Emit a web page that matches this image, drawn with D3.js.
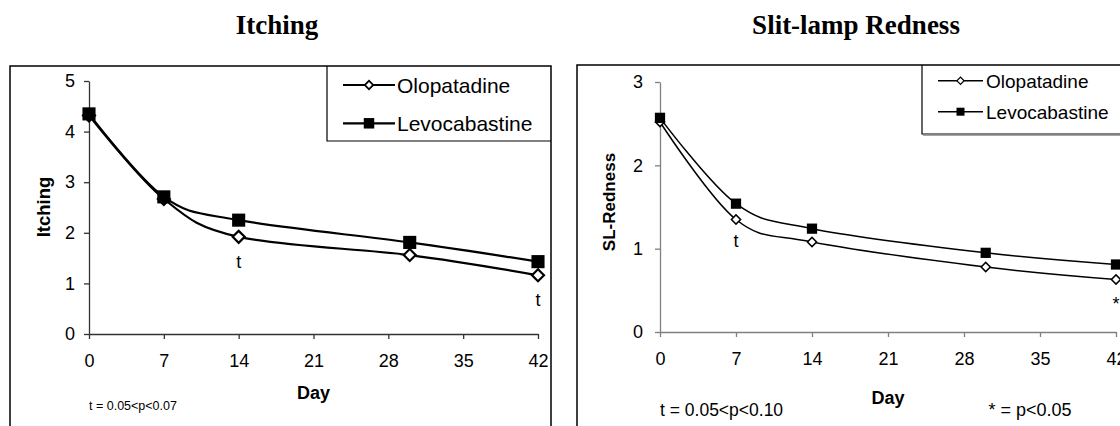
<!DOCTYPE html>
<html>
<head>
<meta charset="utf-8">
<script src="https://cdn.jsdelivr.net/npm/d3@7"></script>
<style>
  html, body { margin: 0; padding: 0; background: #fff; }
  svg { display: block; }
</style>
</head>
<body>
<svg id="chart" width="1120" height="426"></svg>
<script>
// Study days and axis ticks
const days = [0, 7, 14, 30, 42];
const dayTicks = [0, 7, 14, 21, 28, 35, 42];
const itchingTicks = [0, 1, 2, 3, 4, 5];
const rednessTicks = [0, 1, 2, 3];

// Mean scores per visit
const itchingOlopatadine   = [4.32, 2.67, 1.92, 1.56, 1.16];
const itchingLevocabastine = [4.35, 2.71, 2.25, 1.81, 1.43];
const rednessOlopatadine   = [2.52, 1.35, 1.08, 0.78, 0.63];
const rednessLevocabastine = [2.57, 1.54, 1.24, 0.95, 0.81];

// Significance marks placed under the Olopatadine point of a visit
const itchingMarks = [{ day: 14, text: "t" }, { day: 42, text: "t" }];
const rednessMarks = [{ day: 7, text: "t" }, { day: 42, text: "*" }];

const seriesNames = ["Olopatadine", "Levocabastine"];

const SANS = "'Liberation Sans', Arial, sans-serif";
const SERIF = "'Liberation Serif', 'Times New Roman', serif";

const svg = d3.select("#chart");

function panel(cfg) {
  const g = svg.append("g");

  // outer chart frame (open at the page edge)
  g.append("path")
    .attr("d", cfg.framePath)
    .attr("fill", "none")
    .attr("stroke", "#000")
    .attr("stroke-width", 1.5);

  // title
  g.append("text")
    .attr("x", cfg.titleX).attr("y", 34)
    .attr("text-anchor", "middle")
    .style("font-family", SERIF).style("font-weight", "bold").style("font-size", "27px")
    .text(cfg.title);

  const x = d3.scaleLinear().domain([0, 42]).range(cfg.xRange);
  const y = d3.scaleLinear().domain(cfg.yDomain).range(cfg.yRange);

  // axes
  const xAxis = g.append("g")
    .attr("transform", `translate(0,${cfg.yRange[0]})`)
    .call(d3.axisBottom(x).tickValues(dayTicks).tickFormat(d3.format("d"))
      .tickSize(5).tickSizeOuter(0).tickPadding(15));
  const yAxis = g.append("g")
    .attr("transform", `translate(${cfg.xRange[0]},0)`)
    .call(d3.axisLeft(y).tickValues(cfg.yTicks).tickFormat(d3.format("d"))
      .tickSize(5).tickSizeOuter(0).tickPadding(cfg.yPad));
  [xAxis, yAxis].forEach(a => {
    a.select(".domain").attr("stroke", cfg.axisColor).attr("stroke-width", 1.3);
    a.selectAll(".tick line").attr("stroke", cfg.axisColor).attr("stroke-width", 1.3);
    a.selectAll(".tick text")
      .attr("fill", "#000")
      .style("font-family", SANS).style("font-size", "18px");
  });

  // axis titles
  g.append("text")
    .attr("x", (cfg.xRange[0] + cfg.xRange[1]) / 2).attr("y", cfg.dayY)
    .attr("text-anchor", "middle")
    .style("font-family", SANS).style("font-weight", "bold").style("font-size", "18px")
    .text("Day");
  g.append("text")
    .attr("transform", `translate(${cfg.yTitleX},${cfg.yTitleY}) rotate(-90)`)
    .attr("text-anchor", "middle")
    .attr("dy", "0.35em")
    .style("font-family", SANS).style("font-weight", "bold").style("font-size", cfg.yTitleSize)
    .text(cfg.yTitle);

  // smoothed series lines
  const line = d3.line()
    .x((d, i) => x(days[i]))
    .y(d => y(d))
    .curve(d3.curveCardinal.tension(0));

  [cfg.olo, cfg.levo].forEach(vals => {
    g.append("path")
      .attr("d", line(vals))
      .attr("fill", "none")
      .attr("stroke", "#000")
      .attr("stroke-width", cfg.lineW);
  });

  const diamond = d3.symbol(d3.symbolSquare, cfg.diamondArea);
  const square = d3.symbol(d3.symbolSquare, cfg.squareArea);

  g.selectAll(".olo").data(cfg.olo).join("path")
    .attr("transform", (d, i) => `translate(${x(days[i])},${y(d)}) rotate(45)`)
    .attr("d", diamond)
    .attr("fill", "#fff").attr("stroke", "#000").attr("stroke-width", cfg.lineW);

  g.selectAll(".levo").data(cfg.levo).join("path")
    .attr("transform", (d, i) => `translate(${x(days[i])},${y(d)})`)
    .attr("d", square)
    .attr("fill", "#000");

  // significance marks
  cfg.marks.forEach(m => {
    const v = cfg.olo[days.indexOf(m.day)];
    g.append("text")
      .attr("x", x(m.day))
      .attr("y", y(v) + (m.text === "*" ? 30 : cfg.markOffset))
      .attr("text-anchor", "middle")
      .style("font-family", SANS).style("font-size", "18px")
      .text(m.text);
  });

  // footnotes
  cfg.notes.forEach(n => {
    g.append("text")
      .attr("x", n.x).attr("y", n.y)
      .attr("text-anchor", n.anchor)
      .style("font-family", SANS).style("font-size", n.size)
      .text(n.text);
  });

  // legend
  const L = cfg.legend;
  g.append("path")
    .attr("d", `M${L.x1},${L.y0} V${L.y1} H${L.x2}`)
    .attr("fill", "none").attr("stroke", "#000").attr("stroke-width", 1.2);
  if (L.shadow) {
    g.append("line")
      .attr("x1", L.x1 + 1).attr("x2", L.x2).attr("y1", L.y1 + 1.2).attr("y2", L.y1 + 1.2)
      .attr("stroke", "#888").attr("stroke-width", 1.2);
  }
  seriesNames.forEach((name, i) => {
    const cy = L.rows[i];
    g.append("line")
      .attr("x1", L.lx1).attr("x2", L.lx2).attr("y1", cy).attr("y2", cy)
      .attr("stroke", "#000").attr("stroke-width", cfg.lineW);
    const mx = (L.lx1 + L.lx2) / 2;
    if (i === 0) {
      g.append("path")
        .attr("transform", `translate(${mx},${cy}) rotate(45)`)
        .attr("d", d3.symbol(d3.symbolSquare, L.diamondArea))
        .attr("fill", "#fff").attr("stroke", "#000").attr("stroke-width", cfg.lineW * 0.8);
    } else {
      g.append("path")
        .attr("transform", `translate(${mx},${cy})`)
        .attr("d", d3.symbol(d3.symbolSquare, L.squareArea))
        .attr("fill", "#000");
    }
    g.append("text")
      .attr("x", L.tx).attr("y", cy).attr("dy", "0.36em")
      .style("font-family", SANS).style("font-size", L.fontSize)
      .text(name);
  });
}

panel({
  framePath: "M10,426 V66 H551 V426",
  title: "Itching", titleX: 277,
  xRange: [89, 538], yDomain: [0, 5], yRange: [334, 81], yTicks: itchingTicks, yPad: 9,
  axisColor: "#333",
  dayY: 399,
  yTitle: "Itching", yTitleX: 44, yTitleY: 207, yTitleSize: "18.5px",
  olo: itchingOlopatadine, levo: itchingLevocabastine,
  lineW: 2.2, diamondArea: 72, squareArea: 172,
  marks: itchingMarks, markOffset: 31,
  notes: [{ x: 89, y: 410, anchor: "start", size: "12.5px", text: "t = 0.05<p<0.07" }],
  legend: {
    x1: 327, x2: 551, y0: 66, y1: 141, shadow: false,
    rows: [85, 123.3], lx1: 343, lx2: 395, tx: 397,
    diamondArea: 36, squareArea: 110, fontSize: "21px"
  }
});

panel({
  framePath: "M577,426 V65 H1120",
  title: "Slit-lamp Redness", titleX: 856,
  xRange: [660, 1116], yDomain: [0, 3], yRange: [332, 82], yTicks: rednessTicks, yPad: 12,
  axisColor: "#808080",
  dayY: 404,
  yTitle: "SL-Redness", yTitleX: 609, yTitleY: 202, yTitleSize: "17px",
  olo: rednessOlopatadine, levo: rednessLevocabastine,
  lineW: 1.5, diamondArea: 42, squareArea: 105,
  marks: rednessMarks, markOffset: 27,
  notes: [
    { x: 660, y: 416, anchor: "start", size: "17.5px", text: "t = 0.05<p<0.10" },
    { x: 1030, y: 416, anchor: "middle", size: "18px", text: "* = p<0.05" }
  ],
  legend: {
    x1: 922, x2: 1120, y0: 65, y1: 134, shadow: true,
    rows: [80.7, 111.7], lx1: 938, lx2: 983, tx: 986,
    diamondArea: 26, squareArea: 64, fontSize: "19px"
  }
});
</script>
</body>
</html>
